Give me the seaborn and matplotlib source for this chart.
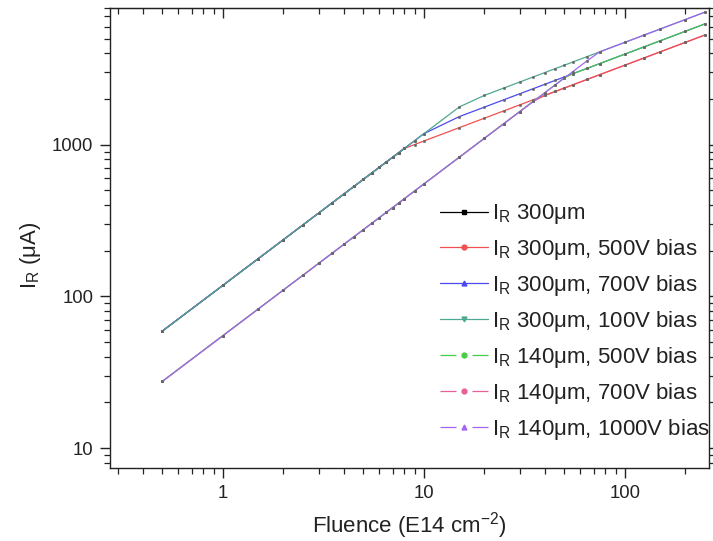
import matplotlib
matplotlib.use("Agg")
import matplotlib.pyplot as plt
from matplotlib.lines import Line2D
import seaborn as sns
import pandas as pd

# ---------------- data ----------------
fluence = [0.5, 1, 1.5, 2, 2.5, 3, 3.5, 4, 4.5, 5, 5.5, 6, 6.5, 7, 7.5, 8,
           9, 10, 15, 20, 25, 30, 35, 40, 45, 50, 55, 65, 75, 100, 125, 150, 200, 250]

# 300 um, linear part (hidden beneath the other 300 um curves)
ir_300 = [59, 118, 177, 236, 295, 354, 413, 472, 531, 590, 649, 708, 767, 826, 885, 944]

ir_300_500V = [59, 118, 177, 236, 295, 354, 413, 472, 531, 590, 649, 708, 767, 826, 885, 944,
               1001, 1056, 1293, 1493, 1669, 1828, 1975, 2111, 2239, 2360, 2476, 2691, 2891,
               3338, 3732, 4088, 4721, 5278]

ir_300_700V = [59, 118, 177, 236, 295, 354, 413, 472, 531, 590, 649, 708, 767, 826, 885, 944,
               1062, 1180, 1529, 1766, 1975, 2163, 2336, 2498, 2649, 2792, 2929, 3184, 3420,
               3949, 4415, 4836, 5585, 6244]

ir_300_100V = [59, 118, 177, 236, 295, 354, 413, 472, 531, 590, 649, 708, 767, 826, 885, 944,
               1062, 1180, 1770, 2111, 2360, 2585, 2792, 2985, 3166, 3338, 3500, 3805, 4088,
               4720, 5277, 5781, 6675, 7463]

ir_140_500V = [27.5, 55, 82.5, 110, 137.5, 165, 192.5, 220, 247.5, 275, 302.5, 330, 357.5, 385,
               412.5, 440, 495, 550, 825, 1100, 1375, 1650, 1925, 2200, 2475, 2750, 2929, 3184,
               3420, 3949, 4415, 4836, 5585, 6244]

ir_140_700V = [27.5, 55, 82.5, 110, 137.5, 165, 192.5, 220, 247.5, 275, 302.5, 330, 357.5, 385,
               412.5, 440, 495, 550, 825, 1100, 1375, 1650, 1925, 2111, 2239, 2360, 2476, 2691,
               2891, 3338, 3732, 4088, 4721, 5278]

ir_140_1000V = [27.5, 55, 82.5, 110, 137.5, 165, 192.5, 220, 247.5, 275, 302.5, 330, 357.5, 385,
                412.5, 440, 495, 550, 825, 1100, 1375, 1650, 1925, 2200, 2475, 2750, 3025, 3575,
                4088, 4720, 5277, 5781, 6675, 7463]

labels = [r"I$_\mathrm{R}$ 300μm",
          r"I$_\mathrm{R}$ 300μm, 500V bias",
          r"I$_\mathrm{R}$ 300μm, 700V bias",
          r"I$_\mathrm{R}$ 300μm, 100V bias",
          r"I$_\mathrm{R}$ 140μm, 500V bias",
          r"I$_\mathrm{R}$ 140μm, 700V bias",
          r"I$_\mathrm{R}$ 140μm, 1000V bias"]

# ---------------- style ----------------
sns.set_style("ticks")
plt.rcParams["font.family"] = ["Liberation Sans", "DejaVu Sans"]
plt.rcParams["mathtext.fontset"] = "custom"
plt.rcParams["mathtext.rm"] = "Liberation Sans"
plt.rcParams["mathtext.it"] = "Liberation Sans:italic"

colors = ["#000000", "#f05050", "#4a4af0", "#4fa894", "#48cc48", "#e8609a", "#a466f0"]
markers = ["s", "o", "^", "v", "o", "o", "^"]
dashed = [False, False, False, False, True, True, True]

fig = plt.figure(figsize=(7.13, 5.41), dpi=100)
ax = fig.add_axes([0.1543, 0.135, 0.8401, 0.851])

series = [ir_300, ir_300_500V, ir_300_700V, ir_300_100V, ir_140_500V, ir_140_700V, ir_140_1000V]
# drawing order chosen so overlapping parts look as in the reference
order = [0, 5, 1, 2, 4, 3, 6]
for i in order:
    y = series[i]
    df = pd.DataFrame({"F": fluence[:len(y)], "I": y})
    sns.lineplot(data=df, x="F", y="I", ax=ax, color=colors[i], linewidth=0.9,
                 marker="o", markersize=1.8, markeredgecolor="#666666",
                 markerfacecolor="#666666", markeredgewidth=0.3,
                 estimator=None, sort=False, legend=False)

ax.set_xscale("log")
ax.set_yscale("log")
ax.set_xlim(0.275, 262)
ax.set_ylim(7.4, 8000)

ax.set_xticks([1, 10, 100])
ax.set_xticklabels(["1", "10", "100"])
ax.set_yticks([10, 100, 1000])
ax.set_yticklabels(["10", "100", "1000"])

for sp in ax.spines.values():
    sp.set_linewidth(1.0)
    sp.set_color("#222222")
    sp.set_visible(True)

ax.tick_params(axis="both", which="major", direction="out", length=7, width=1.0,
               labelsize=13.3, colors="#222222", pad=5)
ax.tick_params(axis="both", which="minor", direction="out", length=4, width=0.9,
               colors="#222222")
ax.tick_params(axis="y", which="both", right=True)
ax.tick_params(axis="x", which="both", top=False)

top = ax.secondary_xaxis("top")
top.tick_params(axis="x", which="major", direction="in", length=7, width=1.0, labeltop=False)
top.tick_params(axis="x", which="minor", direction="in", length=4, width=0.9)
top.set_xticks([1, 10, 100])
top.set_xticklabels([])

ax.set_xlabel(r"Fluence (E14 cm$^\mathrm{-2}$)", fontsize=16, color="#222222")
ax.set_ylabel(r"I$_\mathrm{R}$ (μA)", fontsize=16, color="#222222")
ax.xaxis.set_label_coords(0.5, -0.091)
ax.yaxis.set_label_coords(-0.112, 0.463)

handles = []
for i in range(7):
    h = Line2D([], [], color=colors[i], linewidth=0.9,
               marker=markers[i], markersize=3.5, markeredgecolor=colors[i])
    if dashed[i]:
        h.set_dashes([12.8, 12.8])
    handles.append(h)
leg = ax.legend(handles, labels, loc="upper left", bbox_to_anchor=(0.551, 0.577),
                frameon=False, fontsize=16, handlelength=2.16, handletextpad=0.18,
                labelspacing=0.49, borderaxespad=0, borderpad=0)
for t in leg.get_texts():
    t.set_color("#222222")

fig.savefig("out.png", dpi=100)
